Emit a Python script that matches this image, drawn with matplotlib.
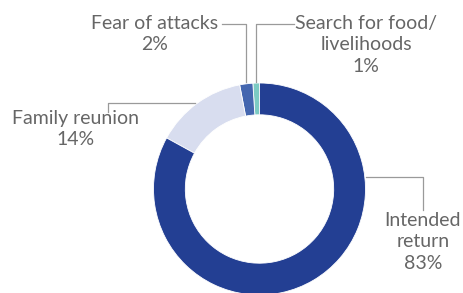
import matplotlib.pyplot as plt

# Reasons for movement (share of respondents)
labels = ["Search for food/\nlivelihoods", "Fear of attacks", "Family reunion", "Intended\nreturn"]
values = [1, 2, 14, 83]
colors = ["#7CCBC3", "#4466AF", "#D8DDEF", "#233F93"]

W, H = 464, 293
fig = plt.figure(figsize=(W / 100, H / 100), dpi=100)
ax = fig.add_axes([0, 0, 1, 1])

# work in pixel-like units (y measured from the top)
cx, cy, r = 259.5, 189, 106
ax.pie(values, colors=colors, startangle=90, counterclock=True,
       center=(cx, H - cy), radius=r,
       wedgeprops=dict(width=r * 0.3, edgecolor="white", linewidth=0.6))
ax.set_xlim(0, W)
ax.set_ylim(0, H)
ax.axis("off")

txt = dict(color="#666666", fontsize=14, family="Lato", ha="center",
           va="top", linespacing=1.32)
line = dict(color="#9a9a9a", lw=0.9)

def y(v):
    return H - v

# label text and leader lines
ax.text(155, y(15), f"{labels[1]}\n{values[1]}%", **txt)
ax.plot([222, 246, 246], [y(24), y(24), y(82)], **line)

ax.text(366, y(15), f"{labels[0]}\n{values[0]}%", **txt)
ax.plot([294, 256.5, 256.5], [y(24), y(24), y(82)], **line)

ax.text(76, y(110), f"{labels[2]}\n{values[2]}%", **txt)
ax.plot([108.5, 108.5, 195], [y(112), y(102.5), y(102.5)], **line)

ax.text(423, y(212), f"{labels[3]}\n{values[3]}%", **txt)
ax.plot([366, 423.5, 423.5], [y(177), y(177), y(210)], **line)

fig.savefig("out.png", dpi=100)
